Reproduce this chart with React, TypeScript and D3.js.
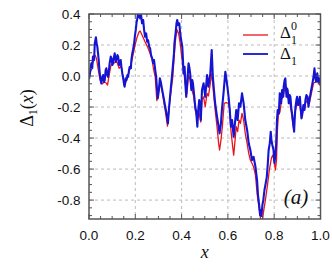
import * as d3 from "d3";

// Δ1 (blue): [x, value]
const delta1: [number, number][] = [
  [0.0, -0.02], [0.003, 0.006], [0.01, 0.082], [0.014, 0.05], [0.017, 0.125], [0.022, 0.103],
  [0.025, 0.211], [0.03, 0.25], [0.033, 0.21], [0.036, 0.19], [0.039, 0.146], [0.042, 0.103],
  [0.045, 0.04], [0.048, -0.005], [0.053, -0.047], [0.058, -0.005], [0.061, 0.006], [0.065, -0.037],
  [0.068, -0.026], [0.072, 0.04], [0.075, 0.05], [0.079, 0.006], [0.082, -0.005], [0.087, 0.05],
  [0.089, 0.082], [0.094, 0.125], [0.097, 0.114], [0.101, 0.071], [0.104, 0.092], [0.108, 0.125],
  [0.111, 0.146], [0.116, 0.092], [0.118, 0.103], [0.123, 0.135], [0.126, 0.125], [0.13, 0.071],
  [0.133, 0.082], [0.137, 0.103], [0.14, 0.06], [0.144, 0.017], [0.147, -0.005], [0.152, -0.058],
  [0.154, -0.069], [0.159, -0.015], [0.162, -0.026], [0.166, 0.006], [0.169, -0.005], [0.173, 0.039],
  [0.176, 0.06], [0.181, 0.05], [0.183, 0.103], [0.187, 0.146], [0.19, 0.168], [0.195, 0.211],
  [0.198, 0.254], [0.202, 0.297], [0.205, 0.34], [0.209, 0.372], [0.212, 0.41], [0.216, 0.39],
  [0.221, 0.372], [0.225, 0.394], [0.229, 0.34], [0.234, 0.361], [0.238, 0.297], [0.242, 0.254],
  [0.247, 0.275], [0.251, 0.221], [0.255, 0.232], [0.26, 0.189], [0.264, 0.179], [0.268, 0.135],
  [0.273, 0.114], [0.277, 0.082], [0.281, 0.103], [0.286, 0.039], [0.29, -0.005], [0.294, -0.09],
  [0.297, -0.144], [0.302, -0.09], [0.306, -0.015], [0.31, -0.037], [0.315, -0.08], [0.319, -0.112],
  [0.323, -0.144], [0.328, -0.187], [0.332, -0.219], [0.337, -0.262], [0.341, -0.305], [0.345, -0.219],
  [0.35, -0.134], [0.354, -0.069], [0.358, -0.005], [0.362, 0.06], [0.367, 0.146], [0.369, 0.211],
  [0.374, 0.275], [0.378, 0.34], [0.381, 0.361], [0.385, 0.329], [0.39, 0.34], [0.394, 0.275],
  [0.398, 0.232], [0.403, 0.189], [0.406, 0.103], [0.408, 0.017], [0.413, 0.06], [0.416, -0.047],
  [0.42, -0.134], [0.423, -0.069], [0.426, -0.005], [0.43, 0.082], [0.434, 0.05], [0.437, 0.017],
  [0.442, -0.09], [0.446, -0.026], [0.449, -0.047], [0.455, -0.134], [0.459, -0.198], [0.463, -0.23],
  [0.468, -0.327], [0.472, -0.219], [0.476, -0.155], [0.481, -0.198], [0.483, -0.284], [0.488, -0.09],
  [0.495, -0.047], [0.502, -0.134], [0.51, 0.006], [0.516, -0.069], [0.524, 0.017], [0.53, 0.168],
  [0.535, -0.005], [0.541, -0.112], [0.545, -0.176], [0.553, -0.262], [0.56, -0.327], [0.564, -0.37],
  [0.57, -0.305], [0.574, -0.219], [0.581, -0.112], [0.589, 0.028], [0.596, -0.047], [0.603, -0.134],
  [0.608, -0.219], [0.613, -0.327], [0.618, -0.284], [0.625, -0.392], [0.629, -0.327], [0.636, -0.219],
  [0.642, -0.284], [0.648, -0.176], [0.654, -0.198], [0.661, -0.112], [0.668, -0.176], [0.675, -0.284],
  [0.683, -0.348], [0.69, -0.434], [0.697, -0.477], [0.704, -0.542], [0.711, -0.521], [0.719, -0.585],
  [0.726, -0.671], [0.73, -0.768], [0.735, -0.832], [0.739, -0.897], [0.742, -0.865], [0.745, -0.903],
  [0.749, -0.832], [0.753, -0.8], [0.758, -0.735], [0.762, -0.703], [0.768, -0.65], [0.772, -0.574],
  [0.776, -0.477], [0.781, -0.434], [0.785, -0.359], [0.788, -0.413], [0.792, -0.445], [0.797, -0.477],
  [0.801, -0.561], [0.805, -0.51], [0.808, -0.456], [0.812, -0.284], [0.815, -0.219], [0.82, -0.241],
  [0.824, -0.112], [0.827, -0.155], [0.83, -0.176], [0.834, -0.09], [0.839, -0.134], [0.841, -0.069],
  [0.845, -0.026], [0.848, -0.015], [0.853, -0.134], [0.856, -0.08], [0.858, -0.09], [0.863, -0.176],
  [0.867, -0.123], [0.87, -0.134], [0.874, -0.208], [0.877, -0.241], [0.882, -0.305], [0.886, -0.359],
  [0.889, -0.262], [0.892, -0.198], [0.896, -0.155], [0.899, -0.134], [0.903, -0.187], [0.908, -0.166],
  [0.911, -0.134], [0.915, -0.219], [0.918, -0.273], [0.922, -0.241], [0.926, -0.187], [0.931, -0.219],
  [0.935, -0.155], [0.939, -0.123], [0.944, -0.134], [0.948, -0.198], [0.952, -0.155], [0.957, -0.112],
  [0.961, -0.08], [0.965, -0.047], [0.97, -0.005], [0.974, 0.05], [0.977, -0.005], [0.981, -0.037],
  [0.986, 0.017], [0.99, -0.037], [0.994, -0.015], [0.999, -0.047], [1.0, -0.026],
];

// Δ1^0 (red)
const delta10: [number, number][] = [
  [0.0, 0.0], [0.009, 0.04], [0.017, 0.09], [0.026, 0.135], [0.032, 0.115], [0.039, 0.05],
  [0.048, -0.026], [0.056, -0.052], [0.065, -0.04], [0.074, -0.045], [0.08, -0.058], [0.087, 0.006],
  [0.095, 0.07], [0.104, 0.077], [0.113, 0.09], [0.121, 0.09], [0.13, 0.05], [0.139, 0.065],
  [0.147, -0.013], [0.156, -0.052], [0.165, -0.013], [0.173, 0.026], [0.182, 0.077], [0.19, 0.135],
  [0.199, 0.2], [0.208, 0.252], [0.216, 0.284], [0.221, 0.29], [0.229, 0.265], [0.242, 0.221],
  [0.253, 0.187], [0.264, 0.146], [0.273, 0.103], [0.278, 0.05], [0.286, -0.005], [0.293, -0.159],
  [0.3, -0.09], [0.307, -0.037], [0.315, -0.09], [0.322, -0.155], [0.329, -0.219], [0.339, -0.323],
  [0.348, -0.176], [0.355, -0.09], [0.362, -0.005], [0.369, 0.146], [0.375, 0.254], [0.381, 0.297],
  [0.387, 0.275], [0.394, 0.211], [0.401, 0.116], [0.408, 0.039], [0.416, -0.047], [0.423, -0.112],
  [0.43, 0.006], [0.437, -0.026], [0.445, -0.09], [0.452, -0.129], [0.459, -0.219], [0.466, -0.263],
  [0.473, -0.219], [0.483, -0.297], [0.488, -0.155], [0.495, -0.134], [0.502, -0.198], [0.51, -0.112],
  [0.516, -0.129], [0.524, -0.047], [0.531, 0.017], [0.538, -0.112], [0.545, -0.219], [0.553, -0.327],
  [0.56, -0.434], [0.564, -0.477], [0.57, -0.413], [0.576, -0.327], [0.584, -0.176], [0.593, -0.172],
  [0.603, -0.176], [0.608, -0.219], [0.613, -0.348], [0.619, -0.434], [0.625, -0.51], [0.631, -0.413],
  [0.636, -0.327], [0.642, -0.359], [0.648, -0.284], [0.654, -0.305], [0.661, -0.241], [0.668, -0.284],
  [0.675, -0.37], [0.683, -0.434], [0.69, -0.499], [0.697, -0.542], [0.711, -0.585], [0.719, -0.639],
  [0.727, -0.768], [0.736, -0.865], [0.742, -0.93], [0.749, -0.93], [0.755, -0.865], [0.762, -0.8],
  [0.771, -0.703], [0.779, -0.606], [0.788, -0.529], [0.794, -0.51], [0.801, -0.561], [0.805, -0.606],
  [0.81, -0.542], [0.814, -0.348], [0.818, -0.252], [0.825, -0.232], [0.831, -0.155], [0.84, -0.123],
  [0.848, -0.058], [0.857, -0.135], [0.866, -0.155], [0.874, -0.232], [0.883, -0.335], [0.892, -0.219],
  [0.9, -0.174], [0.909, -0.168], [0.918, -0.271], [0.926, -0.206], [0.935, -0.174], [0.944, -0.155],
  [0.952, -0.174], [0.961, -0.11], [0.97, -0.045], [0.978, -0.039], [0.987, -0.026], [0.996, -0.058],
  [1.0, -0.052],
];

const xTicks = [0, 0.2, 0.4, 0.6, 0.8, 1.0];
const xTickLabels = ["0.0", "0.2", "0.4", "0.6", "0.8", "1.0"];
const yTicks = [0.4, 0.2, 0.0, -0.2, -0.4, -0.6, -0.8];
const yTickLabels = ["0.4", "0.2", "0.0", "-0.2", "-0.4", "-0.6", "-0.8"];

const W = 332;
const H = 273;
const left = 89;
const right = 320.5;
const top = 14;
const bottom = 219;

export default function App() {
  const x = d3.scaleLinear().domain([0, 1]).range([left, right]);
  const y = d3.scaleLinear().domain([-0.922, 0.4]).range([bottom, top]);

  const line = d3
    .line<[number, number]>()
    .x((d) => x(d[0]))
    .y((d) => y(d[1]));

  const xMinor = d3.range(0, 1.0001, 0.05);
  const yMinor = d3.range(-0.9, 0.4001, 0.05);
  const axisColor = "#555";
  const tickFont = "'Liberation Sans', Arial, sans-serif";
  const serif = "'Liberation Serif', 'DejaVu Serif', serif";

  return (
    <svg width={W} height={H} style={{ position: "absolute", left: 0, top: 0 }}>
      <defs>
        <clipPath id="plot">
          <rect x={left} y={top} width={right - left} height={bottom - top} />
        </clipPath>
      </defs>
      <rect width={W} height={H} fill="#fff" />

      {/* grid */}
      {xTicks.slice(1, -1).map((t) => (
        <line key={"gx" + t} x1={x(t)} x2={x(t)} y1={top} y2={bottom}
          stroke="#bbb" strokeWidth={1} strokeDasharray="3,3" />
      ))}
      {yTicks.slice(1).map((t) => (
        <line key={"gy" + t} x1={left} x2={right} y1={y(t)} y2={y(t)}
          stroke="#bbb" strokeWidth={1} strokeDasharray="3,3" />
      ))}

      <g clipPath="url(#plot)">
        <path d={line(delta10) || ""} fill="none" stroke="#e8141c" strokeWidth={1.3} strokeLinejoin="round" />
        <path d={line(delta1) || ""} fill="none" stroke="#1414d2" strokeWidth={2.1} strokeLinejoin="round" />
      </g>

      {/* ticks, inward on all sides */}
      {xMinor.map((t, i) => {
        const len = i % 4 === 0 ? 5 : 3;
        return (
          <g key={"tx" + i} stroke={axisColor} strokeWidth={1}>
            <line x1={x(t)} x2={x(t)} y1={bottom} y2={bottom - len} />
            <line x1={x(t)} x2={x(t)} y1={top} y2={top + len} />
          </g>
        );
      })}
      {yMinor.map((t, i) => {
        const major = Math.abs(Math.round(t * 5) - t * 5) < 1e-6;
        const len = major ? 5 : 3;
        return (
          <g key={"ty" + i} stroke={axisColor} strokeWidth={1}>
            <line x1={left} x2={left + len} y1={y(t)} y2={y(t)} />
            <line x1={right} x2={right - len} y1={y(t)} y2={y(t)} />
          </g>
        );
      })}

      <rect x={left} y={top} width={right - left} height={bottom - top}
        fill="none" stroke={axisColor} strokeWidth={1.5} />

      {xTicks.map((t, i) => (
        <text key={"lx" + t} x={x(t)} y={240} textAnchor="middle"
          fontFamily={tickFont} fontSize={13.5} fill="#111">{xTickLabels[i]}</text>
      ))}
      {yTicks.map((t, i) => (
        <text key={"ly" + t} x={80.5} y={y(t)} dy="0.35em" textAnchor="end"
          fontFamily={tickFont} fontSize={13.5} fill="#111">{yTickLabels[i]}</text>
      ))}

      {/* axis labels */}
      <text x={x(0.5)} y={258} textAnchor="middle" fontFamily={serif}
        fontStyle="italic" fontSize={18} fill="#111">x</text>
      <text transform="translate(33,108) rotate(-90)" textAnchor="middle"
        fontFamily={serif} fontSize={18} fill="#111">
        Δ<tspan fontSize={12} dy={4}>1</tspan>
        <tspan dy={-4}>(</tspan><tspan fontStyle="italic">x</tspan>)
      </text>

      {/* legend */}
      <line x1={243} x2={268} y1={35} y2={35} stroke="#e8141c" strokeWidth={1.3} />
      <line x1={243} x2={268} y1={54} y2={54} stroke="#1414d2" strokeWidth={1.8} />
      <text x={280} y={38} fontFamily={serif} fontSize={17} fill="#111">
        Δ<tspan fontSize={12} dx={0} dy={-8}>0</tspan>
        <tspan fontSize={12} dx={-6} dy={14}>1</tspan>
      </text>
      <text x={280} y={59} fontFamily={serif} fontSize={17} fill="#111">
        Δ<tspan fontSize={12} dy={6}>1</tspan>
      </text>

      <text x={296} y={204} textAnchor="middle" fontFamily={serif}
        fontStyle="italic" fontSize={21} fill="#111">(a)</text>
    </svg>
  );
}
